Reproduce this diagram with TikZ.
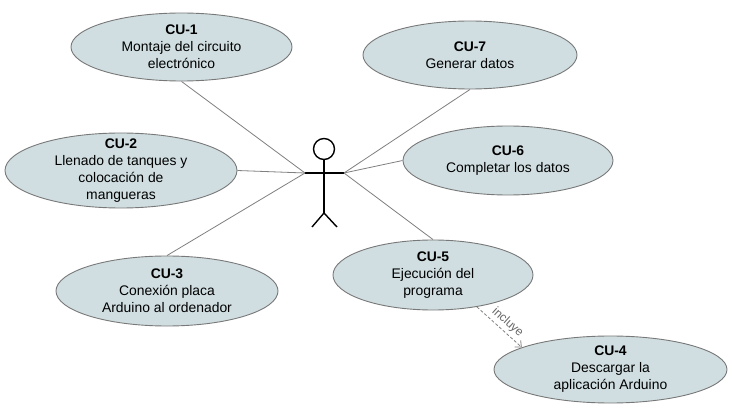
\documentclass[tikz,border=0pt]{standalone}
\usepackage{fontspec}
\setmainfont{Liberation Sans}
\usetikzlibrary{shapes.geometric,arrows.meta}
\definecolor{ucfill}{RGB}{208,222,225}
\definecolor{ucdraw}{RGB}{120,120,120}
\definecolor{linkgray}{RGB}{128,128,128}
\definecolor{labelgray}{RGB}{105,105,105}
\tikzset{
  ucshape/.style={ellipse, draw=ucdraw, line width=0.9pt, fill=ucfill, inner sep=0pt},
  uctext/.style={align=center, inner sep=0pt, font=\fontsize{13.9}{17}\selectfont},
  assoc/.style={draw=linkgray, line width=0.8pt},
  actorline/.style={draw=black, line width=1.4pt},
  inclarrow/.style={draw=linkgray, line width=0.8pt, dashed, dash pattern=on 3pt off 2pt, -{Straight Barb[length=5pt,width=9pt]}},
  incltext/.style={font=\fontsize{12}{14}\selectfont, text=labelgray, inner sep=3pt}
}
\begin{document}
\begin{tikzpicture}[x=1pt,y=-1pt]
\useasboundingbox (0,0) rectangle (732,409);
\fill[white] (0,0) rectangle (732,409);

% use cases
\node[ucshape, minimum width=221pt, minimum height=68pt] (cu1) at (181.5,47) {};
\node[uctext] (t1) at (cu1.center) {\textbf{CU-1}\\Montaje del circuito\\electrónico};

\node[ucshape, minimum width=232pt, minimum height=75pt] (cu2) at (121,170.5) {};
\node[uctext] (t2) at (cu2.center) {\textbf{CU-2}\\Llenado de tanques y\\colocación de\\mangueras};

\node[ucshape, minimum width=222pt, minimum height=70pt] (cu3) at (167,291) {};
\node[uctext] (t3) at (cu3.center) {\textbf{CU-3}\\Conexión placa\\Arduino al ordenador};

\node[ucshape, minimum width=214pt, minimum height=68pt] (cu7) at (470,55) {};
\node[uctext] (t7) at (cu7.center) {\textbf{CU-7}\\Generar datos};

\node[ucshape, minimum width=210pt, minimum height=69pt] (cu6) at (508,160.5) {};
\node[uctext] (t6) at (cu6.center) {\textbf{CU-6}\\Completar los datos};

\node[ucshape, minimum width=200pt, minimum height=70pt] (cu5) at (433,275) {};
\node[uctext] (t5) at (cu5.center) {\textbf{CU-5}\\Ejecución del\\programa};

\node[ucshape, minimum width=233pt, minimum height=67pt] (cu4) at (610.5,369.5) {};
\node[uctext] (t4) at (cu4.center) {\textbf{CU-4}\\Descargar la\\aplicación Arduino};

% actor
\node[circle, draw=black, line width=1.4pt, minimum size=21pt, inner sep=0pt] (head) at (324,149) {};
\coordinate (hip) at (324,213);
\coordinate (lhand) at (305,173);
\coordinate (rhand) at (344,173);
\coordinate (lfoot) at (312,227);
\coordinate (rfoot) at (337,227);
\draw[actorline] (head.south) -- (hip);
\draw[actorline] (lhand) -- (rhand);
\draw[actorline] (lfoot) -- (hip) -- (rfoot);

% associations
\draw[assoc] (lhand) -- (cu1.south);
\draw[assoc] (lhand) -- (cu2.east);
\draw[assoc] (lhand) -- (cu3.north);
\draw[assoc] (rhand) -- (cu7.south);
\draw[assoc] (rhand) -- (cu6.west);
\draw[assoc] (rhand) -- (cu5.north);

% include
\draw[inclarrow] (cu5.-36) -- node[incltext, sloped, above, pos=0.55] (inc) {incluye} (cu4.166);
\end{tikzpicture}
\end{document}
